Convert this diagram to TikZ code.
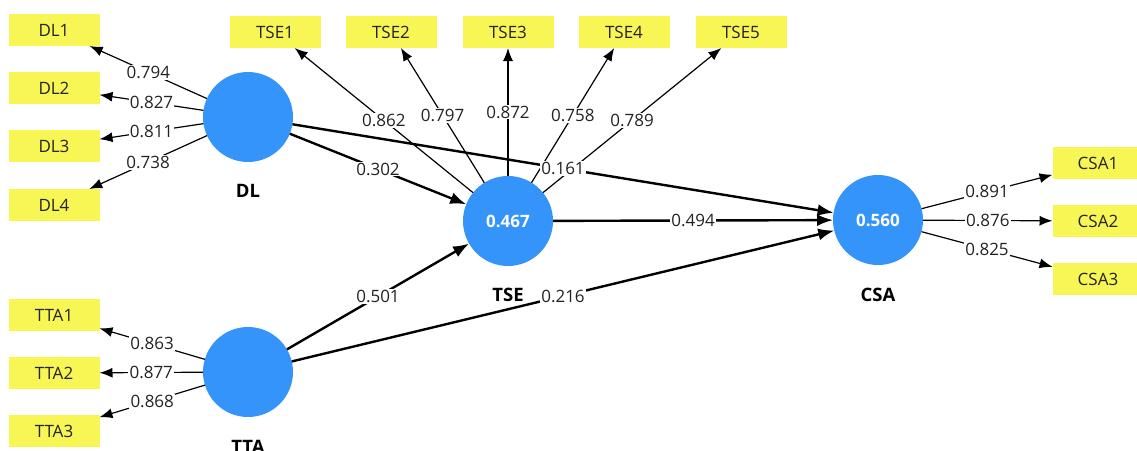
\documentclass[tikz,border=0pt]{standalone}
\usepackage{fontspec}
\setmainfont{Open Sans}
\usetikzlibrary{arrows.meta}
\definecolor{lvblue}{RGB}{52,148,250}
\definecolor{indyellow}{RGB}{247,246,85}
\definecolor{inktext}{RGB}{35,35,35}
\begin{document}
\begin{tikzpicture}[x=1pt,y=-1pt,
  latent/.style={circle,fill=lvblue,minimum size=90pt,inner sep=0pt,outer sep=0pt,
    text=white,font=\fontsize{17}{19}\selectfont\bfseries},
  indicator/.style={rectangle,fill=indyellow,minimum width=91pt,minimum height=32pt,
    inner sep=0pt,outer sep=0pt,text=inktext,font=\fontsize{17}{19}\selectfont},
  lvname/.style={font=\fontsize{18.5}{20}\selectfont\bfseries,text=black},
  loading/.style={line width=1.2pt,-{Latex[length=13pt,width=10pt]}},
  pathcoef/.style={line width=2.4pt,-{Latex[length=16pt,width=12pt]}},
  coef/.style={fill=white,inner sep=1.2pt,text=inktext,font=\fontsize{17}{19}\selectfont}
]
\useasboundingbox (0,0) rectangle (1137,450);
\fill[white] (0,0) rectangle (1137,450);
\clip (0,0) rectangle (1137,450);

% latent variables
\node[latent] (DL)  at (248,117) {};
\node[latent] (TSE) at (508,221) {0.467};
\node[latent] (CSA) at (878,220) {0.560};
\node[latent] (TTA) at (248,372) {};

\node[lvname] (DLname)  at (248,191) {DL};
\node[lvname] (TSEname) at (508,295) {TSE};
\node[lvname] (CSAname) at (878,295) {CSA};
\node[lvname] (TTAname) at (248,447) {TTA};

% indicators
\foreach \n/\x/\y in {DL1/54/30, DL2/54/88, DL3/54/146, DL4/54/205,
                      TTA1/54/315, TTA2/54/373, TTA3/54/431,
                      TSE1/275/32, TSE2/391/32, TSE3/508/32, TSE4/624/32, TSE5/741/32,
                      CSA1/1098/163, CSA2/1098/221, CSA3/1098/279}
  \node[indicator] (\n) at (\x,\y) {\n};

% outer loadings
\foreach \a/\b in {DL/DL1, DL/DL2, DL/DL3, DL/DL4,
                   TTA/TTA1, TTA/TTA2, TTA/TTA3,
                   TSE/TSE1, TSE/TSE2, TSE/TSE3, TSE/TSE4, TSE/TSE5,
                   CSA/CSA1, CSA/CSA2, CSA/CSA3}
  \draw[loading] (\a) -- (\b);

% structural paths
\foreach \a/\b in {DL/TSE, DL/CSA, TSE/CSA, TTA/TSE, TTA/CSA}
  \draw[pathcoef] (\a) -- (\b);

% coefficient labels on top of all lines
\foreach \a/\b/\v in {DL/DL1/0.794, DL/DL2/0.827, DL/DL3/0.811, DL/DL4/0.738,
                      TTA/TTA1/0.863, TTA/TTA2/0.877, TTA/TTA3/0.868,
                      TSE/TSE1/0.862, TSE/TSE2/0.797, TSE/TSE3/0.872, TSE/TSE4/0.758, TSE/TSE5/0.789,
                      CSA/CSA1/0.891, CSA/CSA2/0.876, CSA/CSA3/0.825,
                      DL/TSE/0.302, DL/CSA/0.161, TSE/CSA/0.494, TTA/TSE/0.501, TTA/CSA/0.216}
  \path (\a) -- (\b) node[coef,midway] {\v};
\end{tikzpicture}
\end{document}
